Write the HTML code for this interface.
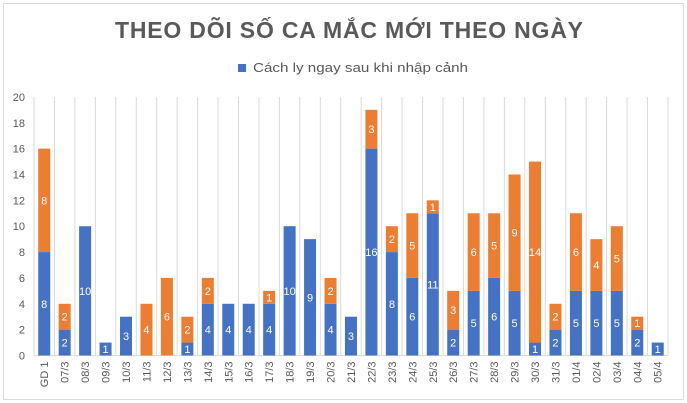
<!DOCTYPE html>
<html><head><meta charset="utf-8"><style>
body{margin:0;background:#fff;}
svg{display:block;font-family:"Liberation Sans","DejaVu Sans",sans-serif;}
</style></head><body>
<svg id="c" width="687" height="403" xmlns="http://www.w3.org/2000/svg">
<rect x="3.5" y="3.5" width="680" height="396" fill="#fff" stroke="#d9d9d9"/>
<text x="115" y="38" font-size="23" font-weight="bold" fill="#595959" textLength="468" lengthAdjust="spacing">THEO DÕI SỐ CA MẮC MỚI THEO NGÀY</text>
<rect x="238" y="64" width="8" height="8" fill="#4472c4"/>
<text x="253" y="72" font-size="12.5" fill="#595959" textLength="215" lengthAdjust="spacingAndGlyphs">Cách ly ngay sau khi nhập cảnh</text>
<g id="g"></g>
</svg>
<script>
const cats=["GD 1","07/3","08/3","09/3","10/3","11/3","12/3","13/3","14/3","15/3","16/3","17/3","18/3","19/3","20/3","21/3","22/3","23/3","24/3","25/3","26/3","27/3","28/3","29/3","30/3","31/3","01/4","02/4","03/4","04/4","05/4"];
const b=[8,2,10,1,3,0,0,1,4,4,4,4,10,9,4,3,16,8,6,11,2,5,6,5,1,2,5,5,5,2,1];
const o=[8,2,0,0,0,4,6,2,2,0,0,1,0,0,2,0,3,2,5,1,3,6,5,9,14,2,6,4,5,1,0];
const L=34,W=20.45,Y0=355.5,U=12.93;let s="";
for(let i=0;i<=20;i+=2){s+=`<text x="25" y="${Y0-i*U+4}" text-anchor="end" font-size="11" fill="#595959">${i}</text>`;}
for(let i=1;i<=31;i++){s+=`<line x1="${L+i*W}" y1="97" x2="${L+i*W}" y2="${Y0}" stroke="#d9d9d9"/>`;}
s+=`<line x1="${L}" y1="97" x2="${L}" y2="${Y0}" stroke="#d9d9d9"/><line x1="${L}" y1="${Y0}" x2="${L+31*W}" y2="${Y0}" stroke="#d9d9d9"/>`;
cats.forEach((c,i)=>{const cx=L+i*W+W/2,x=cx-6;
if(b[i]){const h=b[i]*U;s+=`<rect x="${x}" y="${Y0-h}" width="12" height="${h}" fill="#4472c4"/><text x="${cx}" y="${Y0-h/2+4}" text-anchor="middle" font-size="11" fill="#fff">${b[i]}</text>`;}
if(o[i]){const h=o[i]*U,y=Y0-b[i]*U-h;s+=`<rect x="${x}" y="${y}" width="12" height="${h}" fill="#ed7d31"/><text x="${cx}" y="${y+h/2+4}" text-anchor="middle" font-size="11" fill="#fff">${o[i]}</text>`;}
s+=`<text transform="translate(${cx+4},${Y0+6}) rotate(-90)" text-anchor="end" font-size="11" fill="#595959">${c}</text>`;});
document.getElementById("g").innerHTML=s;
</script>
</body></html>
